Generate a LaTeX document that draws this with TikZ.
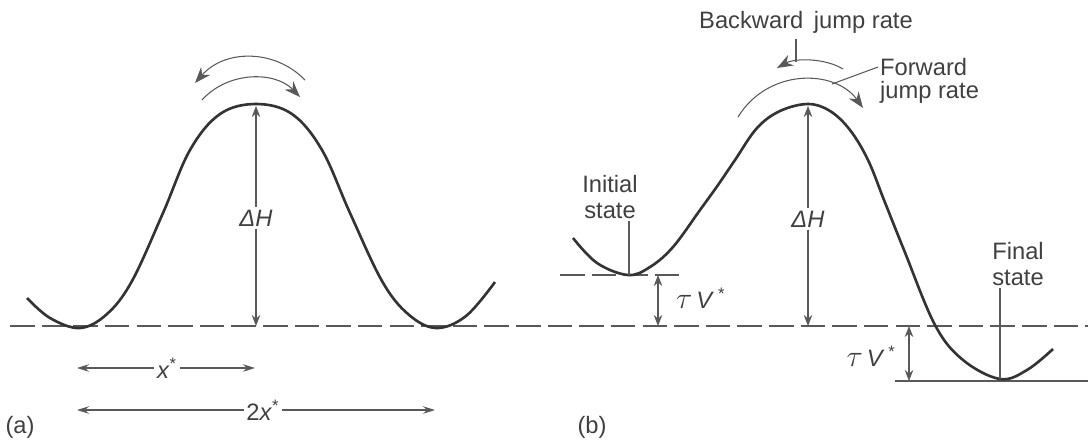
\documentclass[tikz,border=0pt]{standalone}
\usepackage{fontspec}
\setmainfont{Liberation Sans}
\usetikzlibrary{arrows.meta}

\newcommand{\tauV}{{\fontsize{19}{19}\selectfont$\tau$}\,\textit{V}\,\textsuperscript{*}}

\begin{document}
\begin{tikzpicture}[
    x=0.02cm, y=-0.02cm,
    font=\fontsize{13.5}{15}\selectfont,
    every node/.style={text=black!75},
    curve/.style={line width=1.5pt, draw=black!80},
    thinline/.style={line width=0.6pt, draw=black!65},
    level/.style={thinline, dash pattern=on 14pt off 4pt},
    dim/.style={thinline, {Stealth[length=2.2mm,width=1.7mm]}-{Stealth[length=2.2mm,width=1.7mm]}},
    span/.style={thinline, {Stealth[length=2.4mm,width=1.5mm]}-{Stealth[length=2.4mm,width=1.5mm]}},
    jump/.style={thinline, -{Stealth[length=3.2mm,width=2.4mm]}},
    lbl/.style={fill=white, inner sep=1.5pt},
  ]
  \useasboundingbox (0,0) rectangle (1088,441);

  % Reference levels
  \draw[level] (10,326) -- (1088,326);
  \draw[level] (560,275) -- (682,275);
  \draw[thinline] (895,381) -- (1088,381);

  % (a) symmetric barrier
  \draw[curve] plot[smooth, tension=0.6] coordinates {
    (27,298) (50,318) (80,328) (107,314) (132,281) (163,213) (190,150)
    (220,114) (256,104) (292,114) (322,150) (350,213)
    (382,281) (408,314) (436,328) (466,316) (495,282)};

  \coordinate (topA) at (256,106);
  \coordinate (baseA) at (256,326);
  \draw[dim] (topA) -- (baseA);
  \node[lbl] (dHa) at (256,218) {\textit{ΔH}};

  \draw[jump] (305,80) .. controls (275,49) and (225,49) .. (195,83);
  \draw[jump] (202,100) .. controls (228,71) and (275,71) .. (300,97);

  \coordinate (xl) at (77,368);   \coordinate (xr) at (255,368);
  \coordinate (xxl) at (77,410);  \coordinate (xxr) at (435,410);
  \draw[span] (xl) -- (xr);
  \draw[span] (xxl) -- (xxr);
  \node[lbl] (xs) at (167,368) {\textit{x}\textsuperscript{*}};
  \node[lbl] (xxs) at (263,410) {2\textit{x}\textsuperscript{*}};

  \node (capA) at (20,427) {(a)};

  % (b) biased barrier
  \draw[curve] plot[smooth, tension=0.6] coordinates {
    (573,238) (597,263) (628,275) (650,267) (673,247) (700,210) (718,185)
    (735,160) (757,128) (780,111) (808,104) (830,111) (850,130) (868,160)
    (884,200) (904,250) (935,325) (963,360) (1000,379) (1027,370) (1053,349)};

  \coordinate (topB) at (808,106);
  \coordinate (baseB) at (808,326);
  \draw[dim] (topB) -- (baseB);
  \node[lbl] (dHb) at (808,219) {\textit{ΔH}};

  \coordinate (initlev) at (658,275);
  \coordinate (initbase) at (658,326);
  \draw[dim] (initlev) -- (initbase);
  \node[anchor=west] (tvi) at (670,298) {\tauV};

  \coordinate (finbase) at (909,326);
  \coordinate (finlev) at (909,381);
  \draw[dim] (finbase) -- (finlev);
  \node[anchor=east] (tvf) at (902,356) {\tauV};

  % state labels
  \node[align=center, inner sep=1pt] (init) at (610,197) {Initial\\state};
  \coordinate (initmin) at (629,275);
  \draw[thinline] (init.south -| initmin) -- (initmin);

  \node[align=center, inner sep=1pt] (final) at (1018,264) {Final\\state};
  \coordinate (finmin) at (1000,379);
  \draw[thinline] (final.south -| finmin) -- (finmin);

  % jump rates
  \draw[jump] (843,69) .. controls (825,58) and (795,58) .. (777,68);
  \draw[jump] (738,117) .. controls (768,68) and (835,69) .. (863,108);

  \node (bwd) at (806,22) {Backward\, jump rate};
  \coordinate (bwdfoot) at (796,62);
  \draw[thinline] (bwd.south -| bwdfoot) -- (bwdfoot);

  \node[anchor=west, inner sep=1pt] (fwd) at (878,67) {Forward};
  \node[anchor=west, inner sep=1pt] (fwdrate) at (878,92) {jump rate};
  \coordinate (fwdfoot) at (832,84);
  \draw[thinline] (fwdfoot) -- (fwd.west);

  \node (capB) at (592,427) {(b)};

\end{tikzpicture}
\end{document}
